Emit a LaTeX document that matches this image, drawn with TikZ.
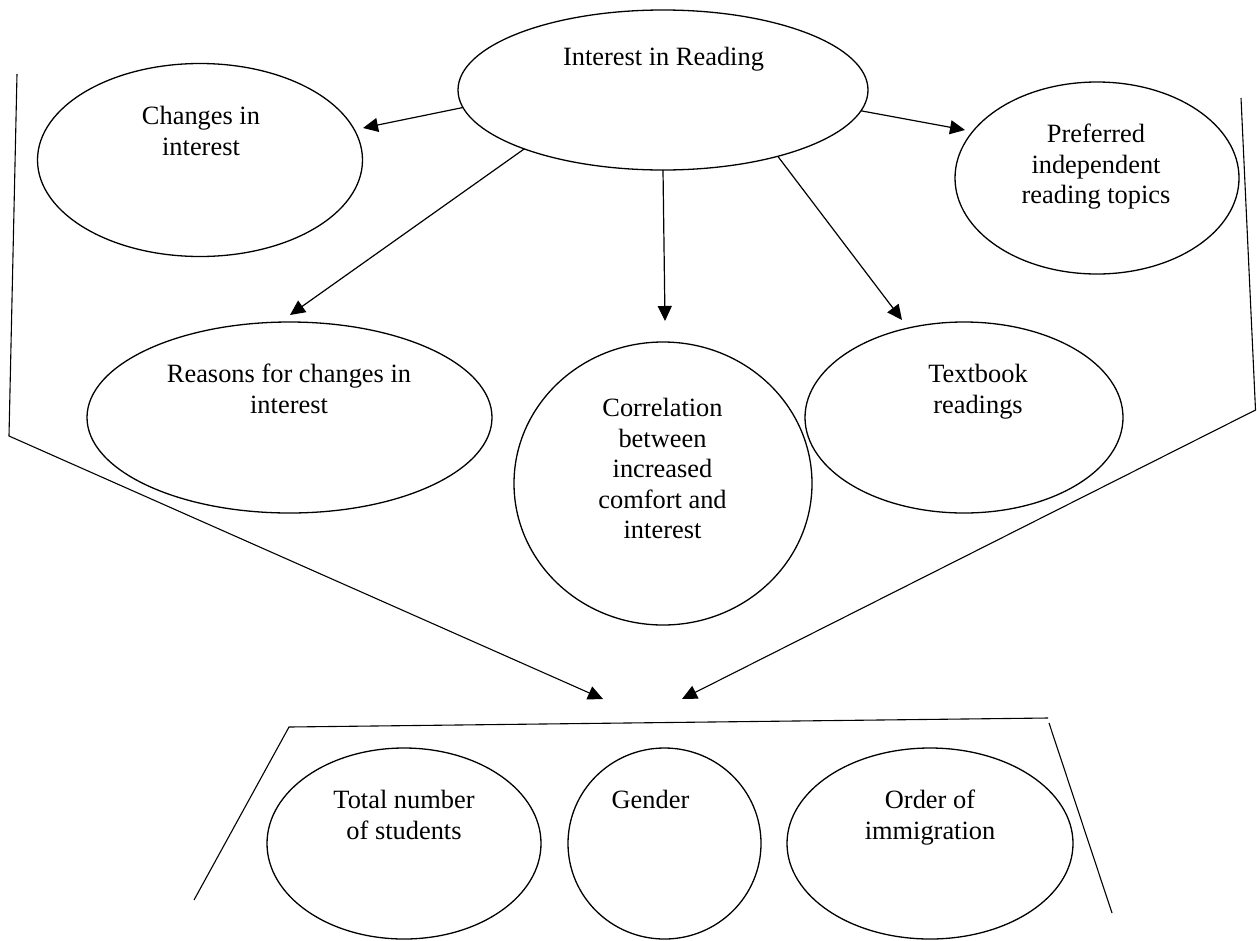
\documentclass[tikz,border=0pt]{standalone}
\usepackage{fontspec}
\setmainfont{Liberation Serif}
\usetikzlibrary{shapes.geometric,arrows.meta}
\begin{document}
\begin{tikzpicture}[x=1pt,y=-1pt,
  bubble/.style={draw, ellipse, line width=1.3pt, inner sep=0pt, outer sep=0pt},
  txt/.style={anchor=north, align=center, inner sep=0pt, font=\fontsize{26.4}{30.5}\selectfont},
  link/.style={line width=1.2pt, -{Triangle[length=15pt,width=14pt]}},
  frame/.style={line width=1.1pt}]
\useasboundingbox (0,0) rectangle (1257,940);

% central topic and its five aspects
\node[bubble, minimum width=410, minimum height=160] (interest) at (663,90) {};
\node[bubble, minimum width=325, minimum height=193] (changes) at (200,160) {};
\node[bubble, minimum width=284, minimum height=192] (preferred) at (1097,178) {};
\node[bubble, minimum width=405, minimum height=191] (reasons) at (289.5,417.5) {};
\node[bubble, minimum width=298, minimum height=283] (correl) at (663,483.5) {};
\node[bubble, minimum width=318, minimum height=191] (textbook) at (964,417.5) {};

% background variables
\node[bubble, minimum width=274, minimum height=191] (total) at (404,843.5) {};
\node[bubble, minimum width=193, minimum height=191] (gender) at (664.5,843.5) {};
\node[bubble, minimum width=286, minimum height=191] (order) at (930,843.5) {};

% texts, set near the top of each bubble
\node[txt] (t-interest) at (663.5,47) {Interest in Reading};
\node[txt] (t-changes) at (201,106) {Changes in\\interest};
\node[txt] (t-preferred) at (1096,124) {Preferred\\independent\\reading topics};
\node[txt] (t-reasons) at (289,364) {Reasons for changes in\\interest};
\node[txt] (t-correl) at (662.5,398) {Correlation\\between\\increased\\comfort and\\interest};
\node[txt] (t-textbook) at (978,364) {Textbook\\readings};
\node[txt] (t-total) at (404,790) {Total number\\of students};
\node[txt] (t-gender) at (650.5,790) {Gender};
\node[txt] (t-order) at (930,790) {Order of\\immigration};

% arrow ends
\coordinate (h-changes) at (363,128);
\coordinate (h-reasons) at (290,315);
\coordinate (h-correl) at (665,321);
\coordinate (h-textbook) at (902,320);
\coordinate (h-preferred) at (965,130);

\draw[link] (interest.185.6) -- (h-changes);
\draw[link] (interest.203.5) -- (h-reasons);
\draw[link] (interest.270) -- (h-correl);
\draw[link] (interest.330.6) -- (h-textbook);
\draw[link] (interest.354.3) -- (h-preferred);

% side brackets funnelling down to the variables
\coordinate (l-top) at (17,74);
\coordinate (l-bot) at (9,436);
\coordinate (l-tip) at (603,699);
\coordinate (r-top) at (1241,98);
\coordinate (r-bot) at (1255.5,410);
\coordinate (r-tip) at (682,699);
\draw[frame, -{Triangle[length=15pt,width=14pt]}] (l-top) -- (l-bot) -- (l-tip);
\draw[frame, -{Triangle[length=15pt,width=14pt]}] (r-top) -- (r-bot) -- (r-tip);

% open tray holding the variables
\coordinate (b1) at (194,900);
\coordinate (b2) at (289,727);
\coordinate (b3) at (1048,718);
\coordinate (b4) at (1049,723);
\coordinate (b5) at (1112,913);
\draw[frame] (b1) -- (b2) -- (b3);
\draw[frame] (b4) -- (b5);
\end{tikzpicture}
\end{document}
